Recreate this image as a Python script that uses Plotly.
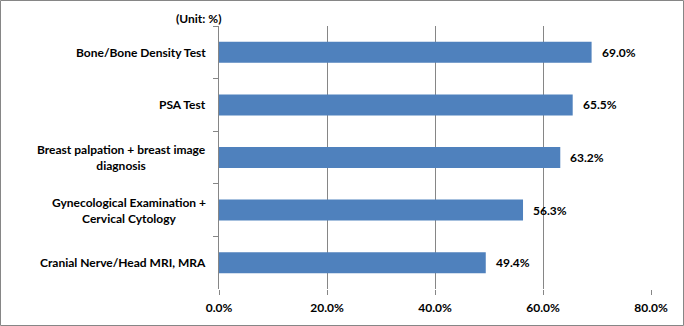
import plotly.graph_objects as go

categories = [
    "Bone/Bone Density Test",
    "PSA Test",
    "Breast palpation + breast image<br>diagnosis",
    "Gynecological Examination +<br>Cervical Cytology",
    "Cranial Nerve/Head MRI, MRA",
]
values = [69.0, 65.5, 63.2, 56.3, 49.4]
x_ticks = [0, 20, 40, 60, 80]
x_tick_labels = ["0.0%", "20.0%", "40.0%", "60.0%", "80.0%"]
unit_label = "(Unit: %)"

FONT = "Lato"
FS = 12
W, H = 684, 326
ML, MR, MT, MB = 219, 33, 26, 37
PW, PH = W - ML - MR, H - MT - MB


def b(t):
    return "<b>" + t.replace("<br>", "</b><br><b>") + "</b>"


fig = go.Figure()
fig.add_trace(go.Bar(
    x=values, y=categories, orientation="h",
    marker=dict(color="#4F81BD", line=dict(width=0)),
    width=0.4, hoverinfo="skip",
))

annotations = []
for c, v in zip(categories, values):
    annotations.append(dict(
        x=v, y=c, xref="x", yref="y", text=b(f"{v:.1f}%"), showarrow=False,
        xanchor="left", yanchor="middle", xshift=8,
        font=dict(family=FONT, size=FS, color="#000000"),
    ))
    annotations.append(dict(
        x=0, y=c, xref="paper", yref="y", text=b(c), showarrow=False,
        xanchor="right", yanchor="middle", xshift=-11, align="center",
        font=dict(family=FONT, size=FS, color="#000000"),
    ))
annotations.append(dict(
    x=0, y=1, xref="paper", yref="paper", text=b(unit_label), showarrow=False,
    xanchor="right", yanchor="middle", xshift=4, yshift=8,
    font=dict(family=FONT, size=FS, color="#000000"),
))

fig.update_layout(
    width=W, height=H,
    margin=dict(l=ML, r=MR, t=MT, b=MB, pad=0),
    paper_bgcolor="white", plot_bgcolor="white",
    showlegend=False,
    bargap=0.6,
    annotations=annotations,
    xaxis=dict(
        range=[0, 80], tickvals=x_ticks, ticktext=[b(t) for t in x_tick_labels],
        showgrid=True, gridcolor="#868686", gridwidth=1,
        zeroline=False, showline=False,
        ticks="outside", ticklen=5, tickcolor="#868686",
        ticklabelstandoff=3,
        tickfont=dict(family=FONT, size=FS, color="#000000"),
        fixedrange=True,
    ),
    yaxis=dict(
        categoryorder="array", categoryarray=categories,
        autorange="reversed",
        showticklabels=False,
        showline=True, linecolor="#868686", linewidth=1,
        ticks="outside", ticklen=5, tickcolor="#868686", tickson="boundaries",
        showgrid=False, zeroline=False, fixedrange=True,
    ),
    shapes=[dict(
        type="rect", xref="paper", yref="paper",
        x0=(-ML + 0.5) / PW, x1=(PW + MR - 0.5) / PW,
        y0=(-MB + 0.5) / PH, y1=(PH + MT - 0.5) / PH,
        line=dict(color="#868686", width=1), fillcolor="rgba(0,0,0,0)",
        layer="below",
    )],
)

fig.write_html("out.html", config={"displayModeBar": False})
